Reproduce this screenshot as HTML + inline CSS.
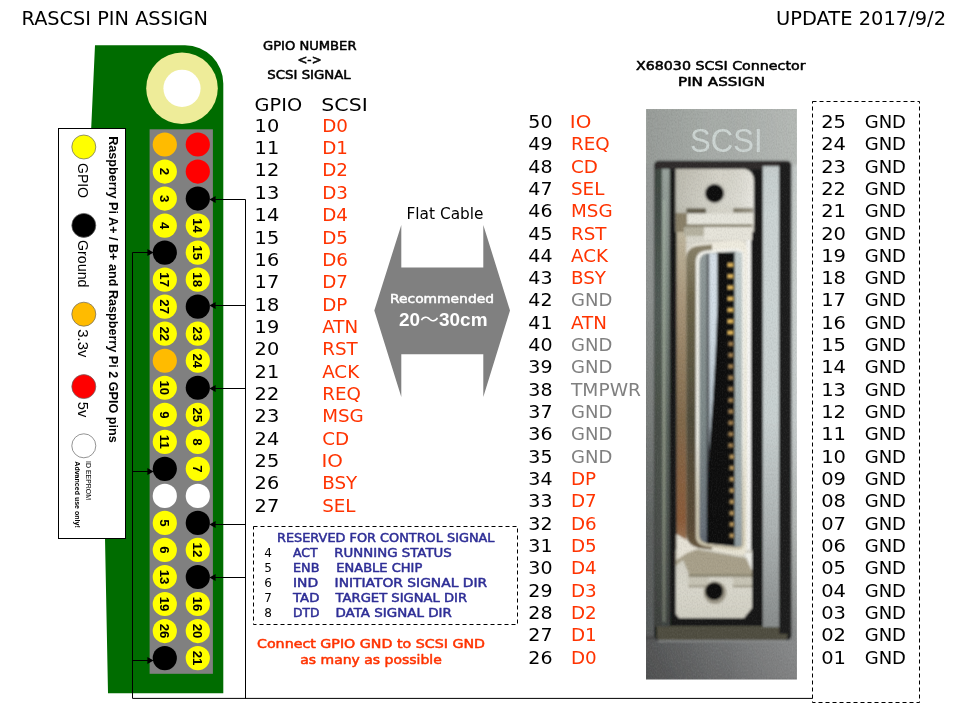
<!DOCTYPE html>
<html lang="ja">
<head>
<meta charset="utf-8">
<title>RASCSI PIN ASSIGN</title>
<style>
html,body{margin:0;padding:0;background:#fff;}
body{width:960px;height:720px;overflow:hidden;font-family:"DejaVu Sans","Liberation Sans",sans-serif;}
svg{display:block;will-change:transform;}
text{white-space:pre;}
</style>
</head>
<body>
<svg width="960" height="720" viewBox="0 0 960 720">
<rect width="960" height="720" fill="#fff"/>
<text x="21.5" y="25" font-family="'DejaVu Sans','Liberation Sans',sans-serif" font-size="19.5" fill="#000" textLength="186.5" lengthAdjust="spacingAndGlyphs">RASCSI PIN ASSIGN</text>
<text x="776" y="25" font-family="'DejaVu Sans','Liberation Sans',sans-serif" font-size="19.5" fill="#000" textLength="170" lengthAdjust="spacingAndGlyphs">UPDATE 2017/9/2</text>
<path d="M95,45.3 L185,45.3 A38.3,38.3 0 0 1 223.3,83.6 L223.3,693.3 L108,693.3 L105,538 L91.2,128.3 Z" fill="#006c00"/>
<circle cx="182" cy="88.3" r="35.8" fill="#eeec99"/>
<circle cx="182" cy="88.3" r="18.6" fill="#fff"/>
<rect x="149.6" y="129.3" width="63.3" height="544.5" fill="#808080"/>
<circle cx="164.8" cy="144.50" r="12.1" fill="#ffbb00"/>
<circle cx="197.8" cy="144.50" r="12.1" fill="#ff0000"/>
<circle cx="164.8" cy="171.53" r="12.1" fill="#ffff00"/>
<text transform="translate(160.20000000000002,171.53) rotate(90)" text-anchor="middle" font-family="'Liberation Sans','DejaVu Sans',sans-serif" font-size="13.2" font-weight="bold" fill="#000">2</text>
<circle cx="197.8" cy="171.53" r="12.1" fill="#ff0000"/>
<circle cx="164.8" cy="198.56" r="12.1" fill="#ffff00"/>
<text transform="translate(160.20000000000002,198.56) rotate(90)" text-anchor="middle" font-family="'Liberation Sans','DejaVu Sans',sans-serif" font-size="13.2" font-weight="bold" fill="#000">3</text>
<circle cx="197.8" cy="198.56" r="12.1" fill="#000000"/>
<circle cx="164.8" cy="225.59" r="12.1" fill="#ffff00"/>
<text transform="translate(160.20000000000002,225.59) rotate(90)" text-anchor="middle" font-family="'Liberation Sans','DejaVu Sans',sans-serif" font-size="13.2" font-weight="bold" fill="#000">4</text>
<circle cx="197.8" cy="225.59" r="12.1" fill="#ffff00"/>
<text transform="translate(193.20000000000002,225.59) rotate(90)" text-anchor="middle" font-family="'Liberation Sans','DejaVu Sans',sans-serif" font-size="13.2" font-weight="bold" fill="#000">14</text>
<circle cx="164.8" cy="252.62" r="12.1" fill="#000000"/>
<circle cx="197.8" cy="252.62" r="12.1" fill="#ffff00"/>
<text transform="translate(193.20000000000002,252.62) rotate(90)" text-anchor="middle" font-family="'Liberation Sans','DejaVu Sans',sans-serif" font-size="13.2" font-weight="bold" fill="#000">15</text>
<circle cx="164.8" cy="279.65" r="12.1" fill="#ffff00"/>
<text transform="translate(160.20000000000002,279.65) rotate(90)" text-anchor="middle" font-family="'Liberation Sans','DejaVu Sans',sans-serif" font-size="13.2" font-weight="bold" fill="#000">17</text>
<circle cx="197.8" cy="279.65" r="12.1" fill="#ffff00"/>
<text transform="translate(193.20000000000002,279.65) rotate(90)" text-anchor="middle" font-family="'Liberation Sans','DejaVu Sans',sans-serif" font-size="13.2" font-weight="bold" fill="#000">18</text>
<circle cx="164.8" cy="306.68" r="12.1" fill="#ffff00"/>
<text transform="translate(160.20000000000002,306.68) rotate(90)" text-anchor="middle" font-family="'Liberation Sans','DejaVu Sans',sans-serif" font-size="13.2" font-weight="bold" fill="#000">27</text>
<circle cx="197.8" cy="306.68" r="12.1" fill="#000000"/>
<circle cx="164.8" cy="333.71" r="12.1" fill="#ffff00"/>
<text transform="translate(160.20000000000002,333.71) rotate(90)" text-anchor="middle" font-family="'Liberation Sans','DejaVu Sans',sans-serif" font-size="13.2" font-weight="bold" fill="#000">22</text>
<circle cx="197.8" cy="333.71" r="12.1" fill="#ffff00"/>
<text transform="translate(193.20000000000002,333.71) rotate(90)" text-anchor="middle" font-family="'Liberation Sans','DejaVu Sans',sans-serif" font-size="13.2" font-weight="bold" fill="#000">23</text>
<circle cx="164.8" cy="360.74" r="12.1" fill="#ffbb00"/>
<circle cx="197.8" cy="360.74" r="12.1" fill="#ffff00"/>
<text transform="translate(193.20000000000002,360.74) rotate(90)" text-anchor="middle" font-family="'Liberation Sans','DejaVu Sans',sans-serif" font-size="13.2" font-weight="bold" fill="#000">24</text>
<circle cx="164.8" cy="387.77" r="12.1" fill="#ffff00"/>
<text transform="translate(160.20000000000002,387.77) rotate(90)" text-anchor="middle" font-family="'Liberation Sans','DejaVu Sans',sans-serif" font-size="13.2" font-weight="bold" fill="#000">10</text>
<circle cx="197.8" cy="387.77" r="12.1" fill="#000000"/>
<circle cx="164.8" cy="414.80" r="12.1" fill="#ffff00"/>
<text transform="translate(160.20000000000002,414.80) rotate(90)" text-anchor="middle" font-family="'Liberation Sans','DejaVu Sans',sans-serif" font-size="13.2" font-weight="bold" fill="#000">9</text>
<circle cx="197.8" cy="414.80" r="12.1" fill="#ffff00"/>
<text transform="translate(193.20000000000002,414.80) rotate(90)" text-anchor="middle" font-family="'Liberation Sans','DejaVu Sans',sans-serif" font-size="13.2" font-weight="bold" fill="#000">25</text>
<circle cx="164.8" cy="441.83" r="12.1" fill="#ffff00"/>
<text transform="translate(160.20000000000002,441.83) rotate(90)" text-anchor="middle" font-family="'Liberation Sans','DejaVu Sans',sans-serif" font-size="13.2" font-weight="bold" fill="#000">11</text>
<circle cx="197.8" cy="441.83" r="12.1" fill="#ffff00"/>
<text transform="translate(193.20000000000002,441.83) rotate(90)" text-anchor="middle" font-family="'Liberation Sans','DejaVu Sans',sans-serif" font-size="13.2" font-weight="bold" fill="#000">8</text>
<circle cx="164.8" cy="468.86" r="12.1" fill="#000000"/>
<circle cx="197.8" cy="468.86" r="12.1" fill="#ffff00"/>
<text transform="translate(193.20000000000002,468.86) rotate(90)" text-anchor="middle" font-family="'Liberation Sans','DejaVu Sans',sans-serif" font-size="13.2" font-weight="bold" fill="#000">7</text>
<circle cx="164.8" cy="495.89" r="12.1" fill="#ffffff"/>
<circle cx="197.8" cy="495.89" r="12.1" fill="#ffffff"/>
<circle cx="164.8" cy="522.92" r="12.1" fill="#ffff00"/>
<text transform="translate(160.20000000000002,522.92) rotate(90)" text-anchor="middle" font-family="'Liberation Sans','DejaVu Sans',sans-serif" font-size="13.2" font-weight="bold" fill="#000">5</text>
<circle cx="197.8" cy="522.92" r="12.1" fill="#000000"/>
<circle cx="164.8" cy="549.95" r="12.1" fill="#ffff00"/>
<text transform="translate(160.20000000000002,549.95) rotate(90)" text-anchor="middle" font-family="'Liberation Sans','DejaVu Sans',sans-serif" font-size="13.2" font-weight="bold" fill="#000">6</text>
<circle cx="197.8" cy="549.95" r="12.1" fill="#ffff00"/>
<text transform="translate(193.20000000000002,549.95) rotate(90)" text-anchor="middle" font-family="'Liberation Sans','DejaVu Sans',sans-serif" font-size="13.2" font-weight="bold" fill="#000">12</text>
<circle cx="164.8" cy="576.98" r="12.1" fill="#ffff00"/>
<text transform="translate(160.20000000000002,576.98) rotate(90)" text-anchor="middle" font-family="'Liberation Sans','DejaVu Sans',sans-serif" font-size="13.2" font-weight="bold" fill="#000">13</text>
<circle cx="197.8" cy="576.98" r="12.1" fill="#000000"/>
<circle cx="164.8" cy="604.01" r="12.1" fill="#ffff00"/>
<text transform="translate(160.20000000000002,604.01) rotate(90)" text-anchor="middle" font-family="'Liberation Sans','DejaVu Sans',sans-serif" font-size="13.2" font-weight="bold" fill="#000">19</text>
<circle cx="197.8" cy="604.01" r="12.1" fill="#ffff00"/>
<text transform="translate(193.20000000000002,604.01) rotate(90)" text-anchor="middle" font-family="'Liberation Sans','DejaVu Sans',sans-serif" font-size="13.2" font-weight="bold" fill="#000">16</text>
<circle cx="164.8" cy="631.04" r="12.1" fill="#ffff00"/>
<text transform="translate(160.20000000000002,631.04) rotate(90)" text-anchor="middle" font-family="'Liberation Sans','DejaVu Sans',sans-serif" font-size="13.2" font-weight="bold" fill="#000">26</text>
<circle cx="197.8" cy="631.04" r="12.1" fill="#ffff00"/>
<text transform="translate(193.20000000000002,631.04) rotate(90)" text-anchor="middle" font-family="'Liberation Sans','DejaVu Sans',sans-serif" font-size="13.2" font-weight="bold" fill="#000">20</text>
<circle cx="164.8" cy="658.07" r="12.1" fill="#000000"/>
<circle cx="197.8" cy="658.07" r="12.1" fill="#ffff00"/>
<text transform="translate(193.20000000000002,658.07) rotate(90)" text-anchor="middle" font-family="'Liberation Sans','DejaVu Sans',sans-serif" font-size="13.2" font-weight="bold" fill="#000">21</text>
<rect x="58.5" y="128.5" width="67" height="410" fill="#fff" stroke="#000" stroke-width="1"/>
<circle cx="83.8" cy="147" r="12" fill="#ffff00" stroke="#666" stroke-width="0.7"/>
<circle cx="83.8" cy="225.4" r="12" fill="#000000" stroke="#666" stroke-width="0.7"/>
<circle cx="83.8" cy="314.2" r="12" fill="#ffbb00" stroke="#666" stroke-width="0.7"/>
<circle cx="83.8" cy="386.6" r="12" fill="#ff0000" stroke="#666" stroke-width="0.7"/>
<circle cx="83.8" cy="445.8" r="12" fill="#ffffff" stroke="#666" stroke-width="0.7"/>
<text transform="translate(77.8,163) rotate(90) scale(1,1.06)" font-family="'Liberation Sans','DejaVu Sans',sans-serif" font-size="14" fill="#000" textLength="35" lengthAdjust="spacingAndGlyphs">GPIO</text>
<text transform="translate(77.8,240) rotate(90) scale(1,1.06)" font-family="'Liberation Sans','DejaVu Sans',sans-serif" font-size="14" fill="#000" textLength="47.5" lengthAdjust="spacingAndGlyphs">Ground</text>
<text transform="translate(77.8,329.3) rotate(90) scale(1,1.06)" font-family="'Liberation Sans','DejaVu Sans',sans-serif" font-size="14" fill="#000" textLength="28" lengthAdjust="spacingAndGlyphs">3.3v</text>
<text transform="translate(77.8,401.8) rotate(90) scale(1,1.06)" font-family="'Liberation Sans','DejaVu Sans',sans-serif" font-size="14" fill="#000" textLength="15.5" lengthAdjust="spacingAndGlyphs">5v</text>
<text transform="translate(108.8,136.2) rotate(90) scale(1,1.0)" font-family="'Liberation Sans','DejaVu Sans',sans-serif" font-size="13.4" fill="#000" font-weight="bold" textLength="306.5" lengthAdjust="spacingAndGlyphs">Raspberry Pi A+ / B+ and Raspberry Pi 2 GPIO pins</text>
<text transform="translate(85.8,461) rotate(90) scale(1,1.0)" font-family="'Liberation Sans','DejaVu Sans',sans-serif" font-size="7" fill="#000" textLength="39" lengthAdjust="spacingAndGlyphs">ID EEPROM</text>
<text transform="translate(74.8,461.3) rotate(90) scale(1,1.0)" font-family="'Liberation Sans','DejaVu Sans',sans-serif" font-size="8" fill="#000" font-weight="bold" textLength="66.5" lengthAdjust="spacingAndGlyphs">Advanced use only!</text>
<path d="M132.5,252.5 V698.4 H812.5" stroke="#000" stroke-width="1" fill="none"/>
<path d="M245.5,199.5 V698.4" stroke="#000" stroke-width="1" fill="none"/>
<path d="M132.5,252.5 L148,252.5" stroke="#000" stroke-width="1" fill="none"/>
<path d="M153.6,252.5 l-6.2,-3.6 v7.2 z" fill="#000"/>
<path d="M132.5,471.5 L148,471.5" stroke="#000" stroke-width="1" fill="none"/>
<path d="M153.6,471.5 l-6.2,-3.6 v7.2 z" fill="#000"/>
<path d="M132.5,660.5 L148,660.5" stroke="#000" stroke-width="1" fill="none"/>
<path d="M153.6,660.5 l-6.2,-3.6 v7.2 z" fill="#000"/>
<path d="M245.5,199.5 L215,199.5" stroke="#000" stroke-width="1" fill="none"/>
<path d="M209.4,199.5 l6.2,-3.6 v7.2 z" fill="#000"/>
<path d="M245.5,305.5 L215,305.5" stroke="#000" stroke-width="1" fill="none"/>
<path d="M209.4,305.5 l6.2,-3.6 v7.2 z" fill="#000"/>
<path d="M245.5,388.5 L215,388.5" stroke="#000" stroke-width="1" fill="none"/>
<path d="M209.4,388.5 l6.2,-3.6 v7.2 z" fill="#000"/>
<path d="M245.5,524.5 L215,524.5" stroke="#000" stroke-width="1" fill="none"/>
<path d="M209.4,524.5 l6.2,-3.6 v7.2 z" fill="#000"/>
<path d="M245.5,577.5 L215,577.5" stroke="#000" stroke-width="1" fill="none"/>
<path d="M209.4,577.5 l6.2,-3.6 v7.2 z" fill="#000"/>
<text x="263" y="50" font-family="'DejaVu Sans','Liberation Sans',sans-serif" font-size="11.8" fill="#000" stroke="#000" stroke-width="0.5" stroke-linejoin="round" textLength="93.5" lengthAdjust="spacingAndGlyphs">GPIO NUMBER</text>
<text x="309.5" y="64.3" font-family="'DejaVu Sans','Liberation Sans',sans-serif" font-size="11.8" fill="#000" stroke="#000" stroke-width="0.5" stroke-linejoin="round" text-anchor="middle">&lt;-&gt;</text>
<text x="267.3" y="79" font-family="'DejaVu Sans','Liberation Sans',sans-serif" font-size="11.8" fill="#000" stroke="#000" stroke-width="0.5" stroke-linejoin="round" textLength="83.5" lengthAdjust="spacingAndGlyphs">SCSI SIGNAL</text>
<text x="254.6" y="110.8" font-family="'DejaVu Sans','Liberation Sans',sans-serif" font-size="18" fill="#000" textLength="47.5" lengthAdjust="spacingAndGlyphs">GPIO</text>
<text x="321.3" y="110.8" font-family="'DejaVu Sans','Liberation Sans',sans-serif" font-size="18" fill="#000" textLength="46.5" lengthAdjust="spacingAndGlyphs">SCSI</text>
<text x="254.6" y="132" font-family="'DejaVu Sans','Liberation Sans',sans-serif" font-size="18" fill="#000" textLength="24.6" lengthAdjust="spacingAndGlyphs">10</text>
<text x="322.2" y="132" font-family="'DejaVu Sans','Liberation Sans',sans-serif" font-size="18.3" fill="#ff3300">D0</text>
<text x="254.6" y="154" font-family="'DejaVu Sans','Liberation Sans',sans-serif" font-size="18" fill="#000" textLength="24.6" lengthAdjust="spacingAndGlyphs">11</text>
<text x="322.2" y="154" font-family="'DejaVu Sans','Liberation Sans',sans-serif" font-size="18.3" fill="#ff3300">D1</text>
<text x="254.6" y="176" font-family="'DejaVu Sans','Liberation Sans',sans-serif" font-size="18" fill="#000" textLength="24.6" lengthAdjust="spacingAndGlyphs">12</text>
<text x="322.2" y="176" font-family="'DejaVu Sans','Liberation Sans',sans-serif" font-size="18.3" fill="#ff3300">D2</text>
<text x="254.6" y="199" font-family="'DejaVu Sans','Liberation Sans',sans-serif" font-size="18" fill="#000" textLength="24.6" lengthAdjust="spacingAndGlyphs">13</text>
<text x="322.2" y="199" font-family="'DejaVu Sans','Liberation Sans',sans-serif" font-size="18.3" fill="#ff3300">D3</text>
<text x="254.6" y="221" font-family="'DejaVu Sans','Liberation Sans',sans-serif" font-size="18" fill="#000" textLength="24.6" lengthAdjust="spacingAndGlyphs">14</text>
<text x="322.2" y="221" font-family="'DejaVu Sans','Liberation Sans',sans-serif" font-size="18.3" fill="#ff3300">D4</text>
<text x="254.6" y="244" font-family="'DejaVu Sans','Liberation Sans',sans-serif" font-size="18" fill="#000" textLength="24.6" lengthAdjust="spacingAndGlyphs">15</text>
<text x="322.2" y="244" font-family="'DejaVu Sans','Liberation Sans',sans-serif" font-size="18.3" fill="#ff3300">D5</text>
<text x="254.6" y="266" font-family="'DejaVu Sans','Liberation Sans',sans-serif" font-size="18" fill="#000" textLength="24.6" lengthAdjust="spacingAndGlyphs">16</text>
<text x="322.2" y="266" font-family="'DejaVu Sans','Liberation Sans',sans-serif" font-size="18.3" fill="#ff3300">D6</text>
<text x="254.6" y="288" font-family="'DejaVu Sans','Liberation Sans',sans-serif" font-size="18" fill="#000" textLength="24.6" lengthAdjust="spacingAndGlyphs">17</text>
<text x="322.2" y="288" font-family="'DejaVu Sans','Liberation Sans',sans-serif" font-size="18.3" fill="#ff3300">D7</text>
<text x="254.6" y="311" font-family="'DejaVu Sans','Liberation Sans',sans-serif" font-size="18" fill="#000" textLength="24.6" lengthAdjust="spacingAndGlyphs">18</text>
<text x="322.2" y="311" font-family="'DejaVu Sans','Liberation Sans',sans-serif" font-size="18.3" fill="#ff3300">DP</text>
<text x="254.6" y="333" font-family="'DejaVu Sans','Liberation Sans',sans-serif" font-size="18" fill="#000" textLength="24.6" lengthAdjust="spacingAndGlyphs">19</text>
<text x="322.2" y="333" font-family="'DejaVu Sans','Liberation Sans',sans-serif" font-size="18.3" fill="#ff3300">ATN</text>
<text x="254.6" y="355" font-family="'DejaVu Sans','Liberation Sans',sans-serif" font-size="18" fill="#000" textLength="24.6" lengthAdjust="spacingAndGlyphs">20</text>
<text x="322.2" y="355" font-family="'DejaVu Sans','Liberation Sans',sans-serif" font-size="18.3" fill="#ff3300">RST</text>
<text x="254.6" y="378" font-family="'DejaVu Sans','Liberation Sans',sans-serif" font-size="18" fill="#000" textLength="24.6" lengthAdjust="spacingAndGlyphs">21</text>
<text x="322.2" y="378" font-family="'DejaVu Sans','Liberation Sans',sans-serif" font-size="18.3" fill="#ff3300">ACK</text>
<text x="254.6" y="400" font-family="'DejaVu Sans','Liberation Sans',sans-serif" font-size="18" fill="#000" textLength="24.6" lengthAdjust="spacingAndGlyphs">22</text>
<text x="322.2" y="400" font-family="'DejaVu Sans','Liberation Sans',sans-serif" font-size="18.3" fill="#ff3300">REQ</text>
<text x="254.6" y="422" font-family="'DejaVu Sans','Liberation Sans',sans-serif" font-size="18" fill="#000" textLength="24.6" lengthAdjust="spacingAndGlyphs">23</text>
<text x="322.2" y="422" font-family="'DejaVu Sans','Liberation Sans',sans-serif" font-size="18.3" fill="#ff3300">MSG</text>
<text x="254.6" y="445" font-family="'DejaVu Sans','Liberation Sans',sans-serif" font-size="18" fill="#000" textLength="24.6" lengthAdjust="spacingAndGlyphs">24</text>
<text x="322.2" y="445" font-family="'DejaVu Sans','Liberation Sans',sans-serif" font-size="18.3" fill="#ff3300">CD</text>
<text x="254.6" y="467" font-family="'DejaVu Sans','Liberation Sans',sans-serif" font-size="18" fill="#000" textLength="24.6" lengthAdjust="spacingAndGlyphs">25</text>
<text x="321.4" y="467" font-family="'DejaVu Sans','Liberation Sans',sans-serif" font-size="18.3" fill="#ff3300" textLength="21.5" lengthAdjust="spacingAndGlyphs">IO</text>
<text x="254.6" y="489" font-family="'DejaVu Sans','Liberation Sans',sans-serif" font-size="18" fill="#000" textLength="24.6" lengthAdjust="spacingAndGlyphs">26</text>
<text x="322.2" y="489" font-family="'DejaVu Sans','Liberation Sans',sans-serif" font-size="18.3" fill="#ff3300">BSY</text>
<text x="254.6" y="512" font-family="'DejaVu Sans','Liberation Sans',sans-serif" font-size="18" fill="#000" textLength="24.6" lengthAdjust="spacingAndGlyphs">27</text>
<text x="322.2" y="512" font-family="'DejaVu Sans','Liberation Sans',sans-serif" font-size="18.3" fill="#ff3300">SEL</text>
<rect x="253.5" y="526.5" width="264" height="98" fill="none" stroke="#000" stroke-width="1" stroke-dasharray="4,3"/>
<text x="277" y="542" font-family="'DejaVu Sans','Liberation Sans',sans-serif" font-size="12" fill="#2e2e96" stroke="#2e2e96" stroke-width="0.5" stroke-linejoin="round" textLength="217.5" lengthAdjust="spacingAndGlyphs">RESERVED FOR CONTROL SIGNAL</text>
<text x="264.3" y="556.8" font-family="'DejaVu Sans','Liberation Sans',sans-serif" font-size="12" fill="#000">4</text>
<text x="293" y="556.8" font-family="'DejaVu Sans','Liberation Sans',sans-serif" font-size="12" fill="#2e2e96" stroke="#2e2e96" stroke-width="0.5" stroke-linejoin="round" textLength="24.6" lengthAdjust="spacingAndGlyphs">ACT</text>
<text x="334.3" y="556.8" font-family="'DejaVu Sans','Liberation Sans',sans-serif" font-size="12" fill="#2e2e96" stroke="#2e2e96" stroke-width="0.5" stroke-linejoin="round" textLength="117.5" lengthAdjust="spacingAndGlyphs">RUNNING STATUS</text>
<text x="264.3" y="571.8" font-family="'DejaVu Sans','Liberation Sans',sans-serif" font-size="12" fill="#000">5</text>
<text x="293" y="571.8" font-family="'DejaVu Sans','Liberation Sans',sans-serif" font-size="12" fill="#2e2e96" stroke="#2e2e96" stroke-width="0.5" stroke-linejoin="round" textLength="26.4" lengthAdjust="spacingAndGlyphs">ENB</text>
<text x="336.3" y="571.8" font-family="'DejaVu Sans','Liberation Sans',sans-serif" font-size="12" fill="#2e2e96" stroke="#2e2e96" stroke-width="0.5" stroke-linejoin="round" textLength="86" lengthAdjust="spacingAndGlyphs">ENABLE CHIP</text>
<text x="264.3" y="586.8" font-family="'DejaVu Sans','Liberation Sans',sans-serif" font-size="12" fill="#000">6</text>
<text x="293" y="586.8" font-family="'DejaVu Sans','Liberation Sans',sans-serif" font-size="12" fill="#2e2e96" stroke="#2e2e96" stroke-width="0.5" stroke-linejoin="round" textLength="25.2" lengthAdjust="spacingAndGlyphs">IND</text>
<text x="334.6" y="586.8" font-family="'DejaVu Sans','Liberation Sans',sans-serif" font-size="12" fill="#2e2e96" stroke="#2e2e96" stroke-width="0.5" stroke-linejoin="round" textLength="152.5" lengthAdjust="spacingAndGlyphs">INITIATOR SIGNAL DIR</text>
<text x="264.3" y="601.8" font-family="'DejaVu Sans','Liberation Sans',sans-serif" font-size="12" fill="#000">7</text>
<text x="293" y="601.8" font-family="'DejaVu Sans','Liberation Sans',sans-serif" font-size="12" fill="#2e2e96" stroke="#2e2e96" stroke-width="0.5" stroke-linejoin="round" textLength="26.4" lengthAdjust="spacingAndGlyphs">TAD</text>
<text x="335.6" y="601.8" font-family="'DejaVu Sans','Liberation Sans',sans-serif" font-size="12" fill="#2e2e96" stroke="#2e2e96" stroke-width="0.5" stroke-linejoin="round" textLength="131.5" lengthAdjust="spacingAndGlyphs">TARGET SIGNAL DIR</text>
<text x="264.3" y="616.8" font-family="'DejaVu Sans','Liberation Sans',sans-serif" font-size="12" fill="#000">8</text>
<text x="293" y="616.8" font-family="'DejaVu Sans','Liberation Sans',sans-serif" font-size="12" fill="#2e2e96" stroke="#2e2e96" stroke-width="0.5" stroke-linejoin="round" textLength="26.4" lengthAdjust="spacingAndGlyphs">DTD</text>
<text x="335.4" y="616.8" font-family="'DejaVu Sans','Liberation Sans',sans-serif" font-size="12" fill="#2e2e96" stroke="#2e2e96" stroke-width="0.5" stroke-linejoin="round" textLength="116.5" lengthAdjust="spacingAndGlyphs">DATA SIGNAL DIR</text>
<text x="257" y="648" font-family="'DejaVu Sans','Liberation Sans',sans-serif" font-size="12" fill="#ff3300" stroke="#ff3300" stroke-width="0.5" stroke-linejoin="round" textLength="228" lengthAdjust="spacingAndGlyphs">Connect GPIO GND to SCSI GND</text>
<text x="300.3" y="663.8" font-family="'DejaVu Sans','Liberation Sans',sans-serif" font-size="12" fill="#ff3300" stroke="#ff3300" stroke-width="0.5" stroke-linejoin="round" textLength="141.5" lengthAdjust="spacingAndGlyphs">as many as possible</text>
<text x="406.5" y="218.8" font-family="'DejaVu Sans','Liberation Sans',sans-serif" font-size="15.5" fill="#000" textLength="77" lengthAdjust="spacingAndGlyphs">Flat Cable</text>
<path d="M374.3,310.4 L401.3,225 L401.3,267.5 L483.3,267.5 L483.3,225 L510,310.4 L483.3,397 L483.3,354.3 L401.3,354.3 L401.3,397 Z" fill="#808080"/>
<text x="390" y="303" font-family="'DejaVu Sans','Liberation Sans',sans-serif" font-size="12.3" fill="#fff" stroke="#fff" stroke-width="0.5" stroke-linejoin="round" textLength="104" lengthAdjust="spacingAndGlyphs">Recommended</text>
<text x="399" y="326" font-family="'Liberation Sans','Noto Sans CJK JP',sans-serif" font-size="18.5" fill="#fff" font-weight="bold" textLength="88.5" lengthAdjust="spacingAndGlyphs">20<tspan font-weight="normal">～</tspan>30cm</text>
<text x="636" y="70" font-family="'DejaVu Sans','Liberation Sans',sans-serif" font-size="12.3" fill="#000" stroke="#000" stroke-width="0.5" stroke-linejoin="round" textLength="169.5" lengthAdjust="spacingAndGlyphs">X68030 SCSI Connector</text>
<text x="678" y="86" font-family="'DejaVu Sans','Liberation Sans',sans-serif" font-size="12.3" fill="#000" stroke="#000" stroke-width="0.5" stroke-linejoin="round" textLength="87" lengthAdjust="spacingAndGlyphs">PIN ASSIGN</text>
<text x="528.3" y="128" font-family="'DejaVu Sans','Liberation Sans',sans-serif" font-size="18" fill="#000" textLength="24.2" lengthAdjust="spacingAndGlyphs">50</text>
<text x="569.8" y="128" font-family="'DejaVu Sans','Liberation Sans',sans-serif" font-size="18.3" fill="#ff3300" textLength="21.5" lengthAdjust="spacingAndGlyphs">IO</text>
<text x="821.2" y="128" font-family="'DejaVu Sans','Liberation Sans',sans-serif" font-size="18" fill="#000" textLength="24.8" lengthAdjust="spacingAndGlyphs">25</text>
<text x="864.7" y="128" font-family="'DejaVu Sans','Liberation Sans',sans-serif" font-size="18" fill="#000">GND</text>
<text x="528.3" y="150" font-family="'DejaVu Sans','Liberation Sans',sans-serif" font-size="18" fill="#000" textLength="24.2" lengthAdjust="spacingAndGlyphs">49</text>
<text x="571" y="150" font-family="'DejaVu Sans','Liberation Sans',sans-serif" font-size="18.3" fill="#ff3300">REQ</text>
<text x="821.2" y="150" font-family="'DejaVu Sans','Liberation Sans',sans-serif" font-size="18" fill="#000" textLength="24.8" lengthAdjust="spacingAndGlyphs">24</text>
<text x="864.7" y="150" font-family="'DejaVu Sans','Liberation Sans',sans-serif" font-size="18" fill="#000">GND</text>
<text x="528.3" y="173" font-family="'DejaVu Sans','Liberation Sans',sans-serif" font-size="18" fill="#000" textLength="24.2" lengthAdjust="spacingAndGlyphs">48</text>
<text x="571" y="173" font-family="'DejaVu Sans','Liberation Sans',sans-serif" font-size="18.3" fill="#ff3300">CD</text>
<text x="821.2" y="173" font-family="'DejaVu Sans','Liberation Sans',sans-serif" font-size="18" fill="#000" textLength="24.8" lengthAdjust="spacingAndGlyphs">23</text>
<text x="864.7" y="173" font-family="'DejaVu Sans','Liberation Sans',sans-serif" font-size="18" fill="#000">GND</text>
<text x="528.3" y="195" font-family="'DejaVu Sans','Liberation Sans',sans-serif" font-size="18" fill="#000" textLength="24.2" lengthAdjust="spacingAndGlyphs">47</text>
<text x="571" y="195" font-family="'DejaVu Sans','Liberation Sans',sans-serif" font-size="18.3" fill="#ff3300">SEL</text>
<text x="821.2" y="195" font-family="'DejaVu Sans','Liberation Sans',sans-serif" font-size="18" fill="#000" textLength="24.8" lengthAdjust="spacingAndGlyphs">22</text>
<text x="864.7" y="195" font-family="'DejaVu Sans','Liberation Sans',sans-serif" font-size="18" fill="#000">GND</text>
<text x="528.3" y="217" font-family="'DejaVu Sans','Liberation Sans',sans-serif" font-size="18" fill="#000" textLength="24.2" lengthAdjust="spacingAndGlyphs">46</text>
<text x="571" y="217" font-family="'DejaVu Sans','Liberation Sans',sans-serif" font-size="18.3" fill="#ff3300">MSG</text>
<text x="821.2" y="217" font-family="'DejaVu Sans','Liberation Sans',sans-serif" font-size="18" fill="#000" textLength="24.8" lengthAdjust="spacingAndGlyphs">21</text>
<text x="864.7" y="217" font-family="'DejaVu Sans','Liberation Sans',sans-serif" font-size="18" fill="#000">GND</text>
<text x="528.3" y="240" font-family="'DejaVu Sans','Liberation Sans',sans-serif" font-size="18" fill="#000" textLength="24.2" lengthAdjust="spacingAndGlyphs">45</text>
<text x="571" y="240" font-family="'DejaVu Sans','Liberation Sans',sans-serif" font-size="18.3" fill="#ff3300">RST</text>
<text x="821.2" y="240" font-family="'DejaVu Sans','Liberation Sans',sans-serif" font-size="18" fill="#000" textLength="24.8" lengthAdjust="spacingAndGlyphs">20</text>
<text x="864.7" y="240" font-family="'DejaVu Sans','Liberation Sans',sans-serif" font-size="18" fill="#000">GND</text>
<text x="528.3" y="262" font-family="'DejaVu Sans','Liberation Sans',sans-serif" font-size="18" fill="#000" textLength="24.2" lengthAdjust="spacingAndGlyphs">44</text>
<text x="571" y="262" font-family="'DejaVu Sans','Liberation Sans',sans-serif" font-size="18.3" fill="#ff3300">ACK</text>
<text x="821.2" y="262" font-family="'DejaVu Sans','Liberation Sans',sans-serif" font-size="18" fill="#000" textLength="24.8" lengthAdjust="spacingAndGlyphs">19</text>
<text x="864.7" y="262" font-family="'DejaVu Sans','Liberation Sans',sans-serif" font-size="18" fill="#000">GND</text>
<text x="528.3" y="284" font-family="'DejaVu Sans','Liberation Sans',sans-serif" font-size="18" fill="#000" textLength="24.2" lengthAdjust="spacingAndGlyphs">43</text>
<text x="571" y="284" font-family="'DejaVu Sans','Liberation Sans',sans-serif" font-size="18.3" fill="#ff3300">BSY</text>
<text x="821.2" y="284" font-family="'DejaVu Sans','Liberation Sans',sans-serif" font-size="18" fill="#000" textLength="24.8" lengthAdjust="spacingAndGlyphs">18</text>
<text x="864.7" y="284" font-family="'DejaVu Sans','Liberation Sans',sans-serif" font-size="18" fill="#000">GND</text>
<text x="528.3" y="306" font-family="'DejaVu Sans','Liberation Sans',sans-serif" font-size="18" fill="#000" textLength="24.2" lengthAdjust="spacingAndGlyphs">42</text>
<text x="571" y="306" font-family="'DejaVu Sans','Liberation Sans',sans-serif" font-size="18" fill="#808080">GND</text>
<text x="821.2" y="306" font-family="'DejaVu Sans','Liberation Sans',sans-serif" font-size="18" fill="#000" textLength="24.8" lengthAdjust="spacingAndGlyphs">17</text>
<text x="864.7" y="306" font-family="'DejaVu Sans','Liberation Sans',sans-serif" font-size="18" fill="#000">GND</text>
<text x="528.3" y="329" font-family="'DejaVu Sans','Liberation Sans',sans-serif" font-size="18" fill="#000" textLength="24.2" lengthAdjust="spacingAndGlyphs">41</text>
<text x="571" y="329" font-family="'DejaVu Sans','Liberation Sans',sans-serif" font-size="18.3" fill="#ff3300">ATN</text>
<text x="821.2" y="329" font-family="'DejaVu Sans','Liberation Sans',sans-serif" font-size="18" fill="#000" textLength="24.8" lengthAdjust="spacingAndGlyphs">16</text>
<text x="864.7" y="329" font-family="'DejaVu Sans','Liberation Sans',sans-serif" font-size="18" fill="#000">GND</text>
<text x="528.3" y="351" font-family="'DejaVu Sans','Liberation Sans',sans-serif" font-size="18" fill="#000" textLength="24.2" lengthAdjust="spacingAndGlyphs">40</text>
<text x="571" y="351" font-family="'DejaVu Sans','Liberation Sans',sans-serif" font-size="18" fill="#808080">GND</text>
<text x="821.2" y="351" font-family="'DejaVu Sans','Liberation Sans',sans-serif" font-size="18" fill="#000" textLength="24.8" lengthAdjust="spacingAndGlyphs">15</text>
<text x="864.7" y="351" font-family="'DejaVu Sans','Liberation Sans',sans-serif" font-size="18" fill="#000">GND</text>
<text x="528.3" y="373" font-family="'DejaVu Sans','Liberation Sans',sans-serif" font-size="18" fill="#000" textLength="24.2" lengthAdjust="spacingAndGlyphs">39</text>
<text x="571" y="373" font-family="'DejaVu Sans','Liberation Sans',sans-serif" font-size="18" fill="#808080">GND</text>
<text x="821.2" y="373" font-family="'DejaVu Sans','Liberation Sans',sans-serif" font-size="18" fill="#000" textLength="24.8" lengthAdjust="spacingAndGlyphs">14</text>
<text x="864.7" y="373" font-family="'DejaVu Sans','Liberation Sans',sans-serif" font-size="18" fill="#000">GND</text>
<text x="528.3" y="396" font-family="'DejaVu Sans','Liberation Sans',sans-serif" font-size="18" fill="#000" textLength="24.2" lengthAdjust="spacingAndGlyphs">38</text>
<text x="571" y="396" font-family="'DejaVu Sans','Liberation Sans',sans-serif" font-size="18" fill="#808080" textLength="70" lengthAdjust="spacingAndGlyphs">TMPWR</text>
<text x="821.2" y="396" font-family="'DejaVu Sans','Liberation Sans',sans-serif" font-size="18" fill="#000" textLength="24.8" lengthAdjust="spacingAndGlyphs">13</text>
<text x="864.7" y="396" font-family="'DejaVu Sans','Liberation Sans',sans-serif" font-size="18" fill="#000">GND</text>
<text x="528.3" y="418" font-family="'DejaVu Sans','Liberation Sans',sans-serif" font-size="18" fill="#000" textLength="24.2" lengthAdjust="spacingAndGlyphs">37</text>
<text x="571" y="418" font-family="'DejaVu Sans','Liberation Sans',sans-serif" font-size="18" fill="#808080">GND</text>
<text x="821.2" y="418" font-family="'DejaVu Sans','Liberation Sans',sans-serif" font-size="18" fill="#000" textLength="24.8" lengthAdjust="spacingAndGlyphs">12</text>
<text x="864.7" y="418" font-family="'DejaVu Sans','Liberation Sans',sans-serif" font-size="18" fill="#000">GND</text>
<text x="528.3" y="440" font-family="'DejaVu Sans','Liberation Sans',sans-serif" font-size="18" fill="#000" textLength="24.2" lengthAdjust="spacingAndGlyphs">36</text>
<text x="571" y="440" font-family="'DejaVu Sans','Liberation Sans',sans-serif" font-size="18" fill="#808080">GND</text>
<text x="821.2" y="440" font-family="'DejaVu Sans','Liberation Sans',sans-serif" font-size="18" fill="#000" textLength="24.8" lengthAdjust="spacingAndGlyphs">11</text>
<text x="864.7" y="440" font-family="'DejaVu Sans','Liberation Sans',sans-serif" font-size="18" fill="#000">GND</text>
<text x="528.3" y="463" font-family="'DejaVu Sans','Liberation Sans',sans-serif" font-size="18" fill="#000" textLength="24.2" lengthAdjust="spacingAndGlyphs">35</text>
<text x="571" y="463" font-family="'DejaVu Sans','Liberation Sans',sans-serif" font-size="18" fill="#808080">GND</text>
<text x="821.2" y="463" font-family="'DejaVu Sans','Liberation Sans',sans-serif" font-size="18" fill="#000" textLength="24.8" lengthAdjust="spacingAndGlyphs">10</text>
<text x="864.7" y="463" font-family="'DejaVu Sans','Liberation Sans',sans-serif" font-size="18" fill="#000">GND</text>
<text x="528.3" y="485" font-family="'DejaVu Sans','Liberation Sans',sans-serif" font-size="18" fill="#000" textLength="24.2" lengthAdjust="spacingAndGlyphs">34</text>
<text x="571" y="485" font-family="'DejaVu Sans','Liberation Sans',sans-serif" font-size="18.3" fill="#ff3300">DP</text>
<text x="821.2" y="485" font-family="'DejaVu Sans','Liberation Sans',sans-serif" font-size="18" fill="#000" textLength="24.8" lengthAdjust="spacingAndGlyphs">09</text>
<text x="864.7" y="485" font-family="'DejaVu Sans','Liberation Sans',sans-serif" font-size="18" fill="#000">GND</text>
<text x="528.3" y="507" font-family="'DejaVu Sans','Liberation Sans',sans-serif" font-size="18" fill="#000" textLength="24.2" lengthAdjust="spacingAndGlyphs">33</text>
<text x="571" y="507" font-family="'DejaVu Sans','Liberation Sans',sans-serif" font-size="18.3" fill="#ff3300">D7</text>
<text x="821.2" y="507" font-family="'DejaVu Sans','Liberation Sans',sans-serif" font-size="18" fill="#000" textLength="24.8" lengthAdjust="spacingAndGlyphs">08</text>
<text x="864.7" y="507" font-family="'DejaVu Sans','Liberation Sans',sans-serif" font-size="18" fill="#000">GND</text>
<text x="528.3" y="530" font-family="'DejaVu Sans','Liberation Sans',sans-serif" font-size="18" fill="#000" textLength="24.2" lengthAdjust="spacingAndGlyphs">32</text>
<text x="571" y="530" font-family="'DejaVu Sans','Liberation Sans',sans-serif" font-size="18.3" fill="#ff3300">D6</text>
<text x="821.2" y="530" font-family="'DejaVu Sans','Liberation Sans',sans-serif" font-size="18" fill="#000" textLength="24.8" lengthAdjust="spacingAndGlyphs">07</text>
<text x="864.7" y="530" font-family="'DejaVu Sans','Liberation Sans',sans-serif" font-size="18" fill="#000">GND</text>
<text x="528.3" y="552" font-family="'DejaVu Sans','Liberation Sans',sans-serif" font-size="18" fill="#000" textLength="24.2" lengthAdjust="spacingAndGlyphs">31</text>
<text x="571" y="552" font-family="'DejaVu Sans','Liberation Sans',sans-serif" font-size="18.3" fill="#ff3300">D5</text>
<text x="821.2" y="552" font-family="'DejaVu Sans','Liberation Sans',sans-serif" font-size="18" fill="#000" textLength="24.8" lengthAdjust="spacingAndGlyphs">06</text>
<text x="864.7" y="552" font-family="'DejaVu Sans','Liberation Sans',sans-serif" font-size="18" fill="#000">GND</text>
<text x="528.3" y="574" font-family="'DejaVu Sans','Liberation Sans',sans-serif" font-size="18" fill="#000" textLength="24.2" lengthAdjust="spacingAndGlyphs">30</text>
<text x="571" y="574" font-family="'DejaVu Sans','Liberation Sans',sans-serif" font-size="18.3" fill="#ff3300">D4</text>
<text x="821.2" y="574" font-family="'DejaVu Sans','Liberation Sans',sans-serif" font-size="18" fill="#000" textLength="24.8" lengthAdjust="spacingAndGlyphs">05</text>
<text x="864.7" y="574" font-family="'DejaVu Sans','Liberation Sans',sans-serif" font-size="18" fill="#000">GND</text>
<text x="528.3" y="597" font-family="'DejaVu Sans','Liberation Sans',sans-serif" font-size="18" fill="#000" textLength="24.2" lengthAdjust="spacingAndGlyphs">29</text>
<text x="571" y="597" font-family="'DejaVu Sans','Liberation Sans',sans-serif" font-size="18.3" fill="#ff3300">D3</text>
<text x="821.2" y="597" font-family="'DejaVu Sans','Liberation Sans',sans-serif" font-size="18" fill="#000" textLength="24.8" lengthAdjust="spacingAndGlyphs">04</text>
<text x="864.7" y="597" font-family="'DejaVu Sans','Liberation Sans',sans-serif" font-size="18" fill="#000">GND</text>
<text x="528.3" y="619" font-family="'DejaVu Sans','Liberation Sans',sans-serif" font-size="18" fill="#000" textLength="24.2" lengthAdjust="spacingAndGlyphs">28</text>
<text x="571" y="619" font-family="'DejaVu Sans','Liberation Sans',sans-serif" font-size="18.3" fill="#ff3300">D2</text>
<text x="821.2" y="619" font-family="'DejaVu Sans','Liberation Sans',sans-serif" font-size="18" fill="#000" textLength="24.8" lengthAdjust="spacingAndGlyphs">03</text>
<text x="864.7" y="619" font-family="'DejaVu Sans','Liberation Sans',sans-serif" font-size="18" fill="#000">GND</text>
<text x="528.3" y="641" font-family="'DejaVu Sans','Liberation Sans',sans-serif" font-size="18" fill="#000" textLength="24.2" lengthAdjust="spacingAndGlyphs">27</text>
<text x="571" y="641" font-family="'DejaVu Sans','Liberation Sans',sans-serif" font-size="18.3" fill="#ff3300">D1</text>
<text x="821.2" y="641" font-family="'DejaVu Sans','Liberation Sans',sans-serif" font-size="18" fill="#000" textLength="24.8" lengthAdjust="spacingAndGlyphs">02</text>
<text x="864.7" y="641" font-family="'DejaVu Sans','Liberation Sans',sans-serif" font-size="18" fill="#000">GND</text>
<text x="528.3" y="664" font-family="'DejaVu Sans','Liberation Sans',sans-serif" font-size="18" fill="#000" textLength="24.2" lengthAdjust="spacingAndGlyphs">26</text>
<text x="571" y="664" font-family="'DejaVu Sans','Liberation Sans',sans-serif" font-size="18.3" fill="#ff3300">D0</text>
<text x="821.2" y="664" font-family="'DejaVu Sans','Liberation Sans',sans-serif" font-size="18" fill="#000" textLength="24.8" lengthAdjust="spacingAndGlyphs">01</text>
<text x="864.7" y="664" font-family="'DejaVu Sans','Liberation Sans',sans-serif" font-size="18" fill="#000">GND</text>
<rect x="812.5" y="101.5" width="107" height="601" fill="none" stroke="#000" stroke-width="1" stroke-dasharray="4,3"/>
<defs><clipPath id="phclip"><rect x="646.0" y="109.0" width="150.89999999999998" height="570.5"/></clipPath><filter id="phblur" x="-5%" y="-5%" width="110%" height="110%"><feGaussianBlur stdDeviation="0.85"/></filter><filter id="phnoise" x="0" y="0" width="100%" height="100%"><feTurbulence type="fractalNoise" baseFrequency="0.8 0.5" numOctaves="2" seed="11" result="n"/><feColorMatrix type="matrix" values="0 0 0 0 1  0 0 0 0 1  0 0 0 0 1  1.4 0 0 0 -0.55"/></filter><filter id="phnoiseD" x="0" y="0" width="100%" height="100%"><feTurbulence type="fractalNoise" baseFrequency="0.8 0.5" numOctaves="2" seed="23" result="n"/><feColorMatrix type="matrix" values="0 0 0 0 0  0 0 0 0 0  0 0 0 0 0  1.4 0 0 0 -0.55"/></filter><linearGradient id="phH" x1="0" y1="0" x2="1" y2="0"><stop offset="0" stop-color="#000" stop-opacity="0.10"/><stop offset="0.45" stop-color="#000" stop-opacity="0"/><stop offset="0.55" stop-color="#fff" stop-opacity="0"/><stop offset="1" stop-color="#fff" stop-opacity="0.16"/></linearGradient><linearGradient id="pg1" gradientUnits="userSpaceOnUse" x1="0" y1="109.0" x2="0" y2="679.5"><stop offset="0.000" stop-color="#a8ada9"/><stop offset="0.089" stop-color="#a7aca8"/><stop offset="0.335" stop-color="#a4a8a8"/><stop offset="0.545" stop-color="#9a9e9e"/><stop offset="0.738" stop-color="#8a8e8e"/><stop offset="0.931" stop-color="#747677"/><stop offset="1.001" stop-color="#6c6d6e"/></linearGradient><linearGradient id="pg2" gradientUnits="userSpaceOnUse" x1="0" y1="109.0" x2="0" y2="679.5"><stop offset="0.098" stop-color="#969a98"/><stop offset="0.335" stop-color="#8c908e"/><stop offset="0.545" stop-color="#787c7a"/><stop offset="0.738" stop-color="#5e6260"/><stop offset="0.931" stop-color="#585a5a"/></linearGradient><linearGradient id="pg3" gradientUnits="userSpaceOnUse" x1="0" y1="109.0" x2="0" y2="679.5"><stop offset="0.098" stop-color="#c2c8c6"/><stop offset="0.335" stop-color="#c8cecc"/><stop offset="0.545" stop-color="#c4caca"/><stop offset="0.738" stop-color="#b0b4b2"/><stop offset="0.931" stop-color="#868888"/></linearGradient><linearGradient id="phBL" x1="0" y1="0" x2="1" y2="0"><stop offset="0" stop-color="#000" stop-opacity="0.2"/><stop offset="1" stop-color="#000" stop-opacity="0"/></linearGradient><linearGradient id="pg4" gradientUnits="userSpaceOnUse" x1="0" y1="109.0" x2="0" y2="679.5"><stop offset="0.105" stop-color="#3c4640"/><stop offset="0.335" stop-color="#505a54"/><stop offset="0.545" stop-color="#4a5048"/><stop offset="0.738" stop-color="#4a4e4a"/><stop offset="0.906" stop-color="#3c403c"/></linearGradient><linearGradient id="pg5" gradientUnits="userSpaceOnUse" x1="0" y1="109.0" x2="0" y2="679.5"><stop offset="0.105" stop-color="#98a29c"/><stop offset="0.212" stop-color="#8a948e"/><stop offset="0.335" stop-color="#78847c"/><stop offset="0.475" stop-color="#646d67"/><stop offset="0.545" stop-color="#58615b"/><stop offset="0.738" stop-color="#4c524e"/><stop offset="0.906" stop-color="#3e423f"/></linearGradient><linearGradient id="pg6" gradientUnits="userSpaceOnUse" x1="0" y1="109.0" x2="0" y2="679.5"><stop offset="0.160" stop-color="#a8b8a8"/><stop offset="0.545" stop-color="#b0b8a0"/><stop offset="0.738" stop-color="#a0a890"/><stop offset="0.899" stop-color="#8a9080"/></linearGradient><linearGradient id="pg7" gradientUnits="userSpaceOnUse" x1="0" y1="109.0" x2="0" y2="679.5"><stop offset="0.100" stop-color="#c6cece"/><stop offset="0.186" stop-color="#ccd4d4"/><stop offset="0.335" stop-color="#ccd4d4"/><stop offset="0.545" stop-color="#c8d0d0"/><stop offset="0.738" stop-color="#acb2b2"/><stop offset="0.908" stop-color="#888c8c"/></linearGradient><linearGradient id="pg8" gradientUnits="userSpaceOnUse" x1="0" y1="109.0" x2="0" y2="679.5"><stop offset="0.205" stop-color="#d6d4c8"/><stop offset="0.265" stop-color="#dcdad0"/><stop offset="0.545" stop-color="#d0cec2"/><stop offset="0.784" stop-color="#d6d4c8"/></linearGradient><linearGradient id="pg9" gradientUnits="userSpaceOnUse" x1="0" y1="109.0" x2="0" y2="679.5"><stop offset="0.209" stop-color="#c0b8a0"/><stop offset="0.335" stop-color="#a8967a"/><stop offset="0.545" stop-color="#80684a"/><stop offset="0.720" stop-color="#8a5a38"/><stop offset="0.777" stop-color="#a08060"/></linearGradient><linearGradient id="pg10" gradientUnits="userSpaceOnUse" x1="0" y1="109.0" x2="0" y2="679.5"><stop offset="0.216" stop-color="#f4f4f0"/><stop offset="0.545" stop-color="#fafafa"/><stop offset="0.784" stop-color="#f0f0ec"/></linearGradient><linearGradient id="pg11" gradientUnits="userSpaceOnUse" x1="0" y1="109.0" x2="0" y2="679.5"><stop offset="0.105" stop-color="#dedcd2"/><stop offset="0.160" stop-color="#e4e3da"/><stop offset="0.216" stop-color="#d6d4c8"/></linearGradient><linearGradient id="phPL" gradientUnits="userSpaceOnUse" x1="675" y1="0" x2="754" y2="0"><stop offset="0" stop-color="#5a5848" stop-opacity="0.28"/><stop offset="0.55" stop-color="#5a5848" stop-opacity="0.08"/><stop offset="1" stop-color="#fff" stop-opacity="0.25"/></linearGradient><linearGradient id="pg12" gradientUnits="userSpaceOnUse" x1="0" y1="109.0" x2="0" y2="679.5"><stop offset="0.773" stop-color="#d0cec2"/><stop offset="0.843" stop-color="#d8d6cb"/><stop offset="0.894" stop-color="#d0cec2"/></linearGradient><linearGradient id="pg13" gradientUnits="userSpaceOnUse" x1="0" y1="109.0" x2="0" y2="679.5"><stop offset="0.230" stop-color="#f0ece0"/><stop offset="0.545" stop-color="#e6e2d0"/><stop offset="0.784" stop-color="#e8e4d4"/></linearGradient><linearGradient id="pg14" gradientUnits="userSpaceOnUse" x1="0" y1="109.0" x2="0" y2="679.5"><stop offset="0.237" stop-color="#8a826a"/><stop offset="0.335" stop-color="#6a6248"/><stop offset="0.545" stop-color="#4e4a38"/><stop offset="0.738" stop-color="#5a4a34"/><stop offset="0.773" stop-color="#6a5a40"/></linearGradient><linearGradient id="pg15" gradientUnits="userSpaceOnUse" x1="0" y1="109.0" x2="0" y2="679.5"><stop offset="0.244" stop-color="#f4f4ee"/><stop offset="0.580" stop-color="#f0f0e8"/><stop offset="0.685" stop-color="#d4ceba"/><stop offset="0.773" stop-color="#c8c0a8"/></linearGradient><linearGradient id="pg16" gradientUnits="userSpaceOnUse" x1="0" y1="109.0" x2="0" y2="679.5"><stop offset="0.249" stop-color="#909a9a"/><stop offset="0.335" stop-color="#8a9494"/><stop offset="0.545" stop-color="#7c8888"/><stop offset="0.738" stop-color="#687078"/><stop offset="0.768" stop-color="#5c646c"/></linearGradient><linearGradient id="pg17" gradientUnits="userSpaceOnUse" x1="0" y1="109.0" x2="0" y2="679.5"><stop offset="0.254" stop-color="#5a5e62"/><stop offset="0.545" stop-color="#505458"/><stop offset="0.633" stop-color="#30343a"/><stop offset="0.761" stop-color="#1c2028"/></linearGradient><linearGradient id="pg18" gradientUnits="userSpaceOnUse" x1="0" y1="109.0" x2="0" y2="679.5"><stop offset="0.252" stop-color="#d6e0e8"/><stop offset="0.387" stop-color="#d0dce4"/><stop offset="0.510" stop-color="#b8c4cc"/><stop offset="0.598" stop-color="#a0acb4"/></linearGradient><linearGradient id="pg19" gradientUnits="userSpaceOnUse" x1="0" y1="109.0" x2="0" y2="679.5"><stop offset="0.251" stop-color="#c4cece"/><stop offset="0.335" stop-color="#bcc8c8"/><stop offset="0.545" stop-color="#a6b2b2"/><stop offset="0.738" stop-color="#96a2a6"/><stop offset="0.766" stop-color="#8e9a9e"/></linearGradient></defs>
<g clip-path="url(#phclip)">
<g filter="url(#phblur)"><rect x="643.0" y="106.0" width="156.9" height="576.5" fill="url(#pg1)"/>
<rect x="646.0" y="109.0" width="150.89999999999998" height="570.5" fill="url(#phH)"/>
<rect x="643.0" y="165.0" width="11.5" height="475.0" fill="url(#pg2)"/>
<rect x="790.0" y="165.0" width="9.9" height="475.0" fill="url(#pg3)"/>
<rect x="643.0" y="636" width="95" height="46" fill="url(#phBL)"/>
<rect x="654.2" y="160.8" width="137.2" height="479.4" rx="4.5" fill="#161615"/>
<rect x="656.0" y="161.6" width="134.0" height="7.8" fill="#2e2c2a"/>
<path d="M656.8,626 H787.5 V636 Q787.5,640.2 783.5,640.2 H661 Q656.8,640.2 656.8,636 Z" fill="#4f4d41"/>
<rect x="658.0" y="640.2" width="129.0" height="1.6" fill="#9a9c9c" opacity="0.8"/>
<rect x="654.6" y="169.0" width="7.4" height="457.5" fill="url(#pg4)"/>
<rect x="662.0" y="169.0" width="7.7" height="457.5" fill="url(#pg5)"/>
<rect x="662.6" y="200.0" width="2.8" height="422.0" fill="url(#pg6)" opacity="0.6"/>
<rect x="762.8" y="166.2" width="16.5" height="460.8" fill="url(#pg7)"/>
<rect x="779.3" y="163.0" width="10.9" height="471.0" fill="#1c1c1a"/>
<rect x="676.8" y="226.0" width="74.2" height="330.0" fill="url(#pg8)"/>
<rect x="676.8" y="228.0" width="9.4" height="324.0" fill="url(#pg9)"/>
<rect x="746.4" y="232.0" width="4.5" height="324.0" fill="url(#pg10)"/>
<path d="M675.6,169 H745 Q753.6,171 753.8,181 V232 H675.6 Z" fill="url(#pg11)"/>
<rect x="686.4" y="208.4" width="19.6" height="5.2" fill="#615b4a"/>
<rect x="733.3" y="208.0" width="19.7" height="4.6" fill="#7a7460"/>
<rect x="687.0" y="213.4" width="66.5" height="11.0" fill="#e6e5dc"/>
<rect x="676.0" y="213.0" width="11.0" height="19.0" fill="#8a8068"/>
<rect x="684.0" y="224.4" width="68.0" height="2.6" fill="#857f6a"/>
<rect x="684.0" y="227.0" width="20.0" height="9.0" fill="#b6b2a0"/>
<rect x="704.0" y="227.0" width="48.0" height="13.0" fill="#e6e4da"/>
<circle cx="714.5" cy="193.3" r="11.4" fill="#aaa698"/>
<circle cx="714.5" cy="193.4" r="9.2" fill="#0c0b0a"/>
<path d="M675.6,169 H745 Q753.6,171 753.8,181 V213.4 H675.6 Z" fill="url(#phPL)"/>
<circle cx="714.5" cy="193.3" r="11.4" fill="#cfcec4"/>
<circle cx="714.5" cy="193.4" r="9.4" fill="#0c0b0a"/>
<path d="M675.8,550 H752 V608 L744,618 H679 L675.8,614 Z" fill="url(#pg12)"/>
<path d="M675.8,552 L688,545 L700,550 L745,558 L752,558 V574 H689 L683,560 L675.8,566 Z" fill="#a8a08a"/>
<path d="M676.5,534 L688,541 L698,549 L687,553 L676.5,560 Z" fill="#e6e2d6"/>
<path d="M744,553 L752,553 V571 Z" fill="#eeeee8"/>
<rect x="688.5" y="574.0" width="63.5" height="3.0" fill="#8f8975"/>
<rect x="688.5" y="577.0" width="20.0" height="9.0" fill="#c8c5b6"/>
<rect x="733.0" y="577.0" width="19.0" height="9.0" fill="#c8c5b6"/>
<rect x="688.5" y="585.6" width="20.0" height="1.6" fill="#918b78"/>
<rect x="733.0" y="585.6" width="19.0" height="1.6" fill="#918b78"/>
<circle cx="715" cy="592.6" r="11.4" fill="#9f9a8a"/>
<circle cx="714.2" cy="591.2" r="9" fill="#0c0b0a"/>
<path d="M686.2,256 Q686.5,246 697,244 L737,240.2 Q746.9,240 746.9,250 V548 Q746.9,556 739,555.3 L699,548 Q686.2,545 686.2,533 Z" fill="url(#pg13)"/>
<path d="M686.2,258 Q686.5,248 697,246 L712,244.4 V549.6 L699,548 Q686.2,545 686.2,533 Z" fill="url(#pg14)"/>
<path d="M695.8,262 Q696,251.5 706,250.4 L735,248.2 Q744.6,248 744.6,258 V541 Q744.6,550.6 736,549.8 L706,546.4 Q695.8,545 695.8,536 Z" fill="url(#pg15)"/>
<path d="M699.3,263 Q699.5,254 707.5,253.3 L735,251.3 Q741.8,251.2 741.8,258.5 V539.5 Q741.8,547.2 736,546.8 L707.5,543.4 Q699.3,542 699.3,535 Z" fill="url(#pg16)"/>
<rect x="706.6" y="254.0" width="3.0" height="289.4" fill="url(#pg17)"/>
<rect x="709.3" y="253.5" width="8.5" height="196.5" fill="url(#pg18)"/>
<rect x="734.3" y="252.0" width="7.5" height="294.4" fill="url(#pg19)"/>
<path d="M717.4,252.4 H734.6 V546 L707.2,543.4 L707.4,500 L708.2,468 L710,440 L712.8,402 L715.6,352 L717.4,305 Z" fill="#0b0a09"/></g>
<g filter="url(#phblur)"><rect x="727.2" y="262.6" width="6.4" height="4.6" fill="#dcb258"/><rect x="727.2" y="273.9" width="6.4" height="4.6" fill="#dcb258"/><rect x="727.2" y="285.2" width="6.4" height="4.6" fill="#dcb258"/><rect x="727.2" y="296.4" width="6.4" height="4.6" fill="#dcb258"/><rect x="727.2" y="307.7" width="6.4" height="4.6" fill="#dcb258"/><rect x="727.2" y="319.0" width="6.4" height="4.6" fill="#dcb258"/><rect x="727.2" y="330.3" width="6.4" height="4.6" fill="#dcb258"/><rect x="728.2" y="341.6" width="5.2" height="4.6" fill="#9c7c4c"/><rect x="728.2" y="352.8" width="5.2" height="4.6" fill="#9c7c4c"/><rect x="728.2" y="364.1" width="5.2" height="4.6" fill="#9c7c4c"/><rect x="728.2" y="375.4" width="5.2" height="4.6" fill="#9c7c4c"/><rect x="728.2" y="386.7" width="5.2" height="4.6" fill="#9c7c4c"/><rect x="728.2" y="398.0" width="5.2" height="4.6" fill="#9c7c4c"/><rect x="728.2" y="409.2" width="5.2" height="4.6" fill="#9c7c4c"/><rect x="728.2" y="420.5" width="5.2" height="4.6" fill="#9c7c4c"/><rect x="728.2" y="431.8" width="5.2" height="4.6" fill="#9c7c4c"/><rect x="728.2" y="443.1" width="5.2" height="4.6" fill="#9c7c4c"/><rect x="729.4" y="454.4" width="4.6" height="4.6" fill="#b6945a"/><rect x="729.4" y="465.6" width="4.6" height="4.6" fill="#b6945a"/><rect x="729.4" y="476.9" width="4.6" height="4.6" fill="#b6945a"/><rect x="729.4" y="488.2" width="4.6" height="4.6" fill="#b6945a"/><rect x="729.4" y="499.5" width="4.6" height="4.6" fill="#b6945a"/><rect x="729.4" y="510.8" width="4.6" height="4.6" fill="#b6945a"/><rect x="729.4" y="522.0" width="4.6" height="4.6" fill="#b6945a"/><rect x="729.4" y="533.3" width="4.6" height="4.6" fill="#b6945a"/></g>
<text x="726.3" y="152" text-anchor="middle" textLength="72.5" lengthAdjust="spacingAndGlyphs" font-family="'Liberation Sans',sans-serif" font-size="32.5" fill="#d6dfdd" opacity="0.82">SCSI</text>
<rect x="646.0" y="109.0" width="150.89999999999998" height="570.5" filter="url(#phnoise)" opacity="0.09"/>
<rect x="646.0" y="109.0" width="150.89999999999998" height="570.5" filter="url(#phnoiseD)" opacity="0.09"/>
</g>
</svg>
</body>
</html>
